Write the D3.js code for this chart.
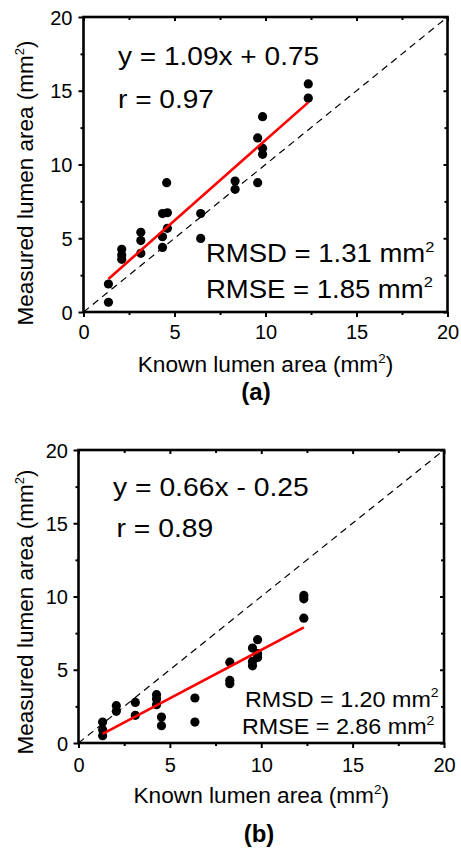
<!DOCTYPE html>
<html><head><meta charset="utf-8">
<script src="https://cdn.jsdelivr.net/npm/d3@7"></script>
<style>
html,body{margin:0;padding:0;background:#fff;}
svg{display:block;font-family:"Liberation Sans",Arial,Helvetica,sans-serif;}
</style></head>
<body>
<svg id="chart" width="461" height="854"></svg>
<script>
// ---- data ----
const knownA    = [1.37,1.37,2.1,2.1,2.1,3.15,3.15,3.15,4.34,4.34,4.34,4.61,4.61,4.57,6.44,6.44,8.33,8.33,9.57,9.57,9.84,9.84,9.84,12.35,12.35];
const measuredA = [1.9,0.66,4.25,3.86,3.57,5.4,4.84,3.98,6.67,5.1,4.38,6.73,5.67,8.77,6.67,4.99,8.88,8.32,8.77,11.8,13.24,11.1,10.69,15.46,14.5];
const knownB    = [1.32,1.32,1.32,2.07,2.07,3.11,3.11,4.27,4.27,4.27,4.54,4.54,6.37,6.37,8.28,8.28,8.28,9.52,9.52,9.52,9.8,9.8,9.8,12.33,12.33,12.33];
const measuredB = [1.43,0.91,0.5,2.55,2.16,2.77,1.89,3.3,3.0,2.61,1.77,1.18,3.07,1.43,5.52,4.27,4.05,6.48,5.57,5.27,7.05,5.84,6.1,10.07,9.84,8.52];
const fitA = {slope:1.09, intercept:0.75};
const fitB = {slope:0.66, intercept:-0.25};
const majorTicks = [0,5,10,15,20];
const minorTicks = [2.5,7.5,12.5,17.5];
const axisDomain = [0,20];
const xTitle = "Known lumen area (mm";
const yTitle = "Measured lumen area (mm";
const textsA = {eq:"y = 1.09x + 0.75", r:"r = 0.97", rmsd:"RMSD = 1.31 mm", rmse:"RMSE = 1.85 mm", tag:"(a)"};
const textsB = {eq:"y = 0.66x - 0.25", r:"r = 0.89", rmsd:"RMSD = 1.20 mm", rmse:"RMSE = 2.86 mm", tag:"(b)"};

const svg = d3.select("#chart");

function panel(o){
  const x = d3.scaleLinear().domain(axisDomain).range([o.left,o.right]);
  const y = d3.scaleLinear().domain(axisDomain).range([o.bottom,o.top]);
  const g = svg.append("g");

  // diagonal identity line
  g.append("line")
    .attr("x1",x(0)).attr("y1",y(0)).attr("x2",x(20)).attr("y2",y(20))
    .attr("stroke","#000").attr("stroke-width",1.2).attr("stroke-dasharray","7,5");

  // points
  g.selectAll("circle.pt").data(o.xs.map((v,i)=>[v,o.ys[i]])).enter()
    .append("circle").attr("class","pt")
    .attr("cx",d=>x(d[0])).attr("cy",d=>y(d[1])).attr("r",4.6).attr("fill","#000");

  // fit line
  const x0 = d3.min(o.xs), x1 = d3.max(o.xs);
  g.append("line")
    .attr("x1",x(x0)).attr("y1",y(o.fit.slope*x0+o.fit.intercept))
    .attr("x2",x(x1)).attr("y2",y(o.fit.slope*x1+o.fit.intercept))
    .attr("stroke","#ff0000").attr("stroke-width",2.6);

  // axes
  const mk = (axis, sel, ticks, size, labels) => {
    const a = axis.tickValues(ticks).tickSizeInner(size).tickSizeOuter(0);
    if(!labels) a.tickFormat("");
    const ag = g.append("g").attr("transform", sel).call(a);
    ag.select(".domain").remove();
    ag.selectAll(".tick line").attr("stroke","#000").attr("stroke-width",2);
    return ag;
  };
  const bx = mk(d3.axisBottom(x), `translate(0,${o.bottom})`, majorTicks, 5, true);
  bx.selectAll("text").attr("font-size",20).attr("fill","#000").attr("font-family","Liberation Sans, Arial, sans-serif")
    .attr("y", o.xLabOff).attr("dy","0");
  mk(d3.axisBottom(x), `translate(0,${o.bottom})`, minorTicks, 3, false);
  const ly = mk(d3.axisLeft(y), `translate(${o.left},0)`, majorTicks, 5, true);
  ly.selectAll("text").attr("font-size",20).attr("fill","#000").attr("font-family","Liberation Sans, Arial, sans-serif")
    .attr("x", -o.yLabOff).attr("dy","0.36em");
  mk(d3.axisLeft(y), `translate(${o.left},0)`, minorTicks, 3, false);
  mk(d3.axisTop(x), `translate(0,${o.top})`, majorTicks, -4, false);
  mk(d3.axisTop(x), `translate(0,${o.top})`, minorTicks, -3, false);
  mk(d3.axisRight(y), `translate(${o.right},0)`, majorTicks, -4, false);
  mk(d3.axisRight(y), `translate(${o.right},0)`, minorTicks, -3, false);

  // frame
  g.append("rect").attr("x",o.left).attr("y",o.top)
    .attr("width",o.right-o.left).attr("height",o.bottom-o.top)
    .attr("fill","none").attr("stroke","#000").attr("stroke-width",2.6);

  // annotations (slightly widened to match the reference glyph proportions)
  const t = o.texts;
  const plain = (txt, xx, yy, fs, sx) =>
    g.append("text").attr("transform",`translate(${xx},${yy}) scale(${sx},1)`).attr("font-size",fs).text(txt);
  plain(t.eq, o.eqX, o.eqY, o.eqSize, o.eqSx);
  plain(t.r, o.rX, o.rY, o.eqSize, o.eqSx);
  const sup = (txt, xx, yy, fs, sx) => {
    const te = g.append("text").attr("transform",`translate(${xx},${yy}) scale(${sx},1)`).attr("font-size",fs);
    te.append("tspan").text(txt);
    te.append("tspan").attr("dy",-fs*0.42).attr("font-size",fs*0.6).text("2");
  };
  sup(t.rmsd, o.rmsdX, o.rmsdY, o.rmsSize, o.rmsSx);
  sup(t.rmse, o.rmseX, o.rmseY, o.rmsSize, o.rmsSx);

  // axis titles
  const cx = (o.left+o.right)/2;
  const xt = g.append("text").attr("transform",`translate(${cx},${o.xTitleY}) scale(1.03,1)`).attr("text-anchor","middle").attr("font-size",22);
  xt.append("tspan").text(xTitle);
  xt.append("tspan").attr("dy",-9).attr("font-size",13).text("2");
  xt.append("tspan").attr("dy",9).text(")");
  const yt = g.append("text").attr("transform",`translate(${o.yTitleX},${o.yTitleCY}) rotate(-90)`)
    .attr("text-anchor","middle").attr("font-size",22.5);
  yt.append("tspan").text(yTitle);
  yt.append("tspan").attr("dy",-9).attr("font-size",13).text("2");
  yt.append("tspan").attr("dy",9).text(")");

  g.append("text").attr("x",o.tagX).attr("y",o.tagY).attr("text-anchor","middle")
    .attr("font-size",24).attr("font-weight","bold").text(t.tag);
}

panel({xs:knownA, ys:measuredA, fit:fitA, texts:textsA,
  left:83.5, right:447.5, top:17, bottom:312,
  xLabOff:27, yLabOff:11,
  eqX:118, eqY:65, rX:118, rY:108, eqSize:25.5, eqSx:1.1,
  rmsdX:206, rmsdY:262, rmseX:206, rmseY:297.5, rmsSize:25, rmsSx:1.1,
  xTitleY:372, yTitleX:33, yTitleCY:183, tagX:256, tagY:400});

panel({xs:knownB, ys:measuredB, fit:fitB, texts:textsB,
  left:78.5, right:444, top:450, bottom:743,
  xLabOff:28.5, yLabOff:10.5,
  eqX:113, eqY:496, rX:116.5, rY:537, eqSize:25.5, eqSx:1.11,
  rmsdX:245, rmsdY:706.5, rmseX:242, rmseY:734, rmsSize:22, rmsSx:1.06,
  xTitleY:803, yTitleX:33, yTitleCY:612, tagX:259, tagY:841.5});
</script>
</body></html>
